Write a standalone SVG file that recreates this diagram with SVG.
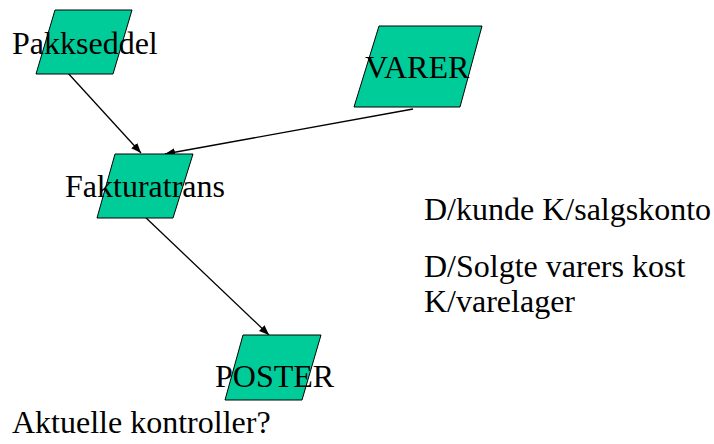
<svg xmlns="http://www.w3.org/2000/svg" width="714" height="444" viewBox="0 0 714 444">
<defs>
<marker id="ah" viewBox="0 0 10 10" refX="10" refY="5" markerWidth="10" markerHeight="10" markerUnits="userSpaceOnUse" orient="auto">
<path d="M0,1 L10,5 L0,9 Z" fill="#000"/>
</marker>
</defs>
<rect width="714" height="444" fill="#fff"/>
<g id="connectors" stroke="#000" stroke-width="1.3" fill="none" marker-end="url(#ah)">
<line x1="67" y1="72" x2="141" y2="153"/>
<line x1="413" y1="109" x2="165" y2="154"/>
<line x1="143" y1="215" x2="269" y2="335"/>
</g>
<g id="pakkseddel">
<polygon fill="#00CC99" stroke="#000" points="55,10 132,10 113,74 36,74"/>
<text x="12" y="54" font-family="Liberation Serif, serif" font-size="32">Pakkseddel</text>
</g>
<g id="varer">
<polygon fill="#00CC99" stroke="#000" points="379,26 482,26 460,107 354,107"/>
<text x="365" y="78" font-family="Liberation Serif, serif" font-size="32">VARER</text>
</g>
<g id="fakturatrans">
<polygon fill="#00CC99" stroke="#000" points="115,154 193,154 173,218 97,218"/>
<text x="65" y="197" font-family="Liberation Serif, serif" font-size="32">Fakturatrans</text>
</g>
<g id="poster">
<polygon fill="#00CC99" stroke="#000" points="243,335 321,335 302,400 225,400"/>
<text x="215" y="387" font-family="Liberation Serif, serif" font-size="32">POSTER</text>
</g>
<text x="424" y="220" font-family="Liberation Serif, serif" font-size="32">D/kunde K/salgskonto</text>
<text x="424" y="277" font-family="Liberation Serif, serif" font-size="32">D/Solgte varers kost</text>
<text x="424" y="312" font-family="Liberation Serif, serif" font-size="32">K/varelager</text>
<text x="12" y="433" font-family="Liberation Serif, serif" font-size="32">Aktuelle kontroller?</text>
</svg>
